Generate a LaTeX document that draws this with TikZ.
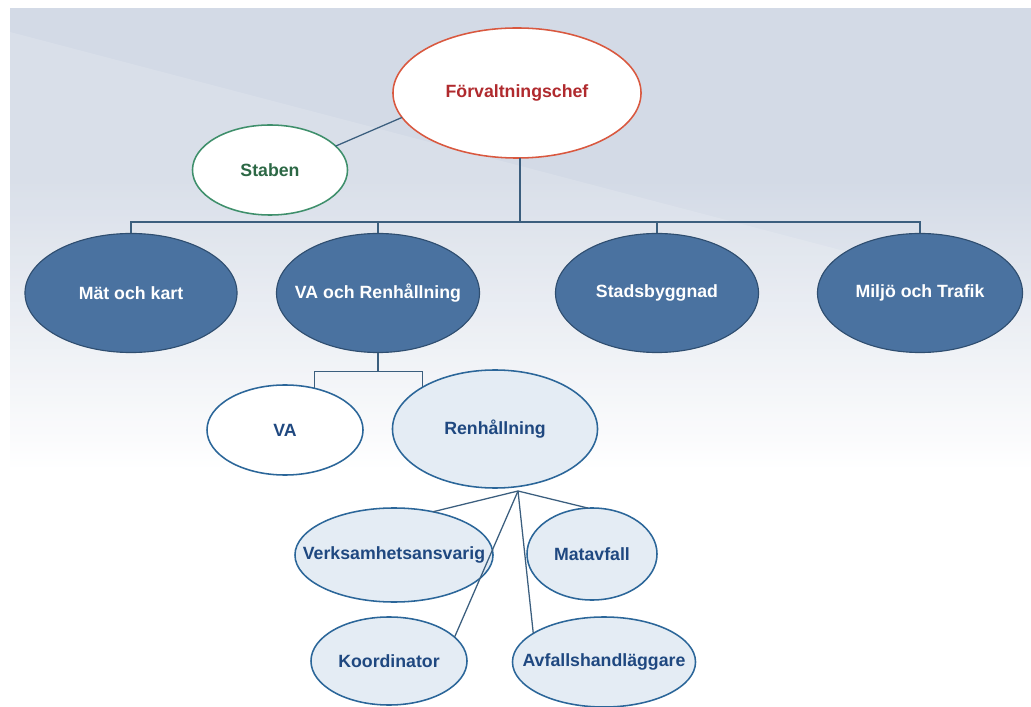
\documentclass[tikz,border=0pt]{standalone}
\usepackage{fontspec}
\setmainfont{Liberation Sans}
\usepackage{xcolor}
\usetikzlibrary{positioning,calc,shapes.geometric}
\definecolor{Sky}{HTML}{D3DAE6}
\definecolor{Wire}{HTML}{3B5E7E}
\definecolor{ChefLine}{HTML}{D9583F}
\definecolor{ChefText}{HTML}{B02A2E}
\definecolor{StabLine}{HTML}{3E8F6B}
\definecolor{StabText}{HTML}{2C6845}
\definecolor{Unit}{HTML}{4A72A0}
\definecolor{UnitLine}{HTML}{2F4E70}
\definecolor{Pale}{HTML}{E4ECF4}
\definecolor{PaleLine}{HTML}{2B6699}
\definecolor{Navy}{HTML}{1F4880}
\newcommand{\fit}[1]{\makebox[0pt]{#1}}
\tikzset{
  oval/.style={ellipse,inner sep=0pt,outer sep=0pt,line width=1.1pt,font=\fontsize{12.6}{14}\selectfont\bfseries},
  chefoval/.style={oval,draw=ChefLine,fill=white,text=ChefText},
  staboval/.style={oval,draw=StabLine,fill=white,text=StabText},
  unit/.style={oval,draw=UnitLine,fill=Unit,text=white,line width=0.8pt},
  whiteoval/.style={oval,draw=PaleLine,fill=white,text=Navy},
  paleoval/.style={oval,draw=PaleLine,fill=Pale,text=Navy},
  wire/.style={draw=Wire,line width=0.9pt}
}
\begin{document}
\begin{tikzpicture}[x=0.025cm,y=-0.025cm]
  \useasboundingbox (0,0) rectangle (1031,707);
  % backdrop
  \fill[white] (0,0) rectangle (1031,707);
  \fill[Sky] (10,8) rectangle (1031,180);
  \shade[top color=Sky,bottom color=white] (10,180) rectangle (1031,470);
  \fill[white,opacity=0.15] (10,32) -- (1031,300) -- (1031,470) -- (10,470) -- cycle;

  % top
  \node[chefoval,minimum width=6.2cm,minimum height=3.25cm] (chef) at (517,93) {\fit{Förvaltningschef}};
  \node[staboval,minimum width=3.875cm,minimum height=2.25cm] (staben) at (270,170) {\fit{Staben}};

  % units
  \node[unit,minimum width=5.3cm,minimum height=2.975cm] (mat) at (131,293) {\fit{Mät och kart}};
  \node[unit,minimum width=5.075cm,minimum height=2.975cm] (vaoren) at (378,293) {\fit{VA och Renhållning}};
  \node[unit,minimum width=5.075cm,minimum height=2.975cm] (stad) at (657,293) {\fit{Stadsbyggnad}};
  \node[unit,minimum width=5.125cm,minimum height=2.975cm] (miljo) at (920,293) {\fit{Miljö och Trafik}};

  % VA och Renhållning
  \node[whiteoval,minimum width=3.9cm,minimum height=2.25cm] (va) at (285,430) {\fit{VA}};
  \node[paleoval,minimum width=5.125cm,minimum height=2.95cm] (renh) at (495,429) {\fit{Renhållning}};

  % Renhållning
  \node[paleoval,minimum width=4.95cm,minimum height=2.35cm] (verks) at (394,555) {\fit{Verksamhetsansvarig}};
  \node[paleoval,minimum width=3.25cm,minimum height=2.3cm] (matavf) at (592,554) {\fit{Matavfall}};
  \node[paleoval,minimum width=3.9cm,minimum height=2.2cm] (koord) at (389,661) {\fit{Koordinator}};
  \node[paleoval,minimum width=4.575cm,minimum height=2.25cm] (avfall) at (604,662) {\fit{Avfallshandläggare}};

  \coordinate (bus) at (520,222);
  \coordinate (sub) at ($(vaoren.south)+(0,19)$);
  \coordinate (fan) at (518,491);

  \draw[wire] (staben.20) -- (chef.192);
  \draw[wire] (chef.south -| bus) -- (bus);
  \draw[wire] (mat.north) |- (bus) -| (miljo.north);
  \draw[wire] (vaoren.north) -- (vaoren.north |- bus);
  \draw[wire] (stad.north) -- (stad.north |- bus);
  \draw[wire] (vaoren.south) -- (sub);
  \draw[wire] (va.55) |- (sub) -| (renh.150);
  \draw[wire] (fan) -- (verks.48);
  \draw[wire] (fan) -- (matavf.95);
  \draw[wire] (fan) -- (koord.20);
  \draw[wire] (fan) -- (avfall.158);
\end{tikzpicture}
\end{document}
